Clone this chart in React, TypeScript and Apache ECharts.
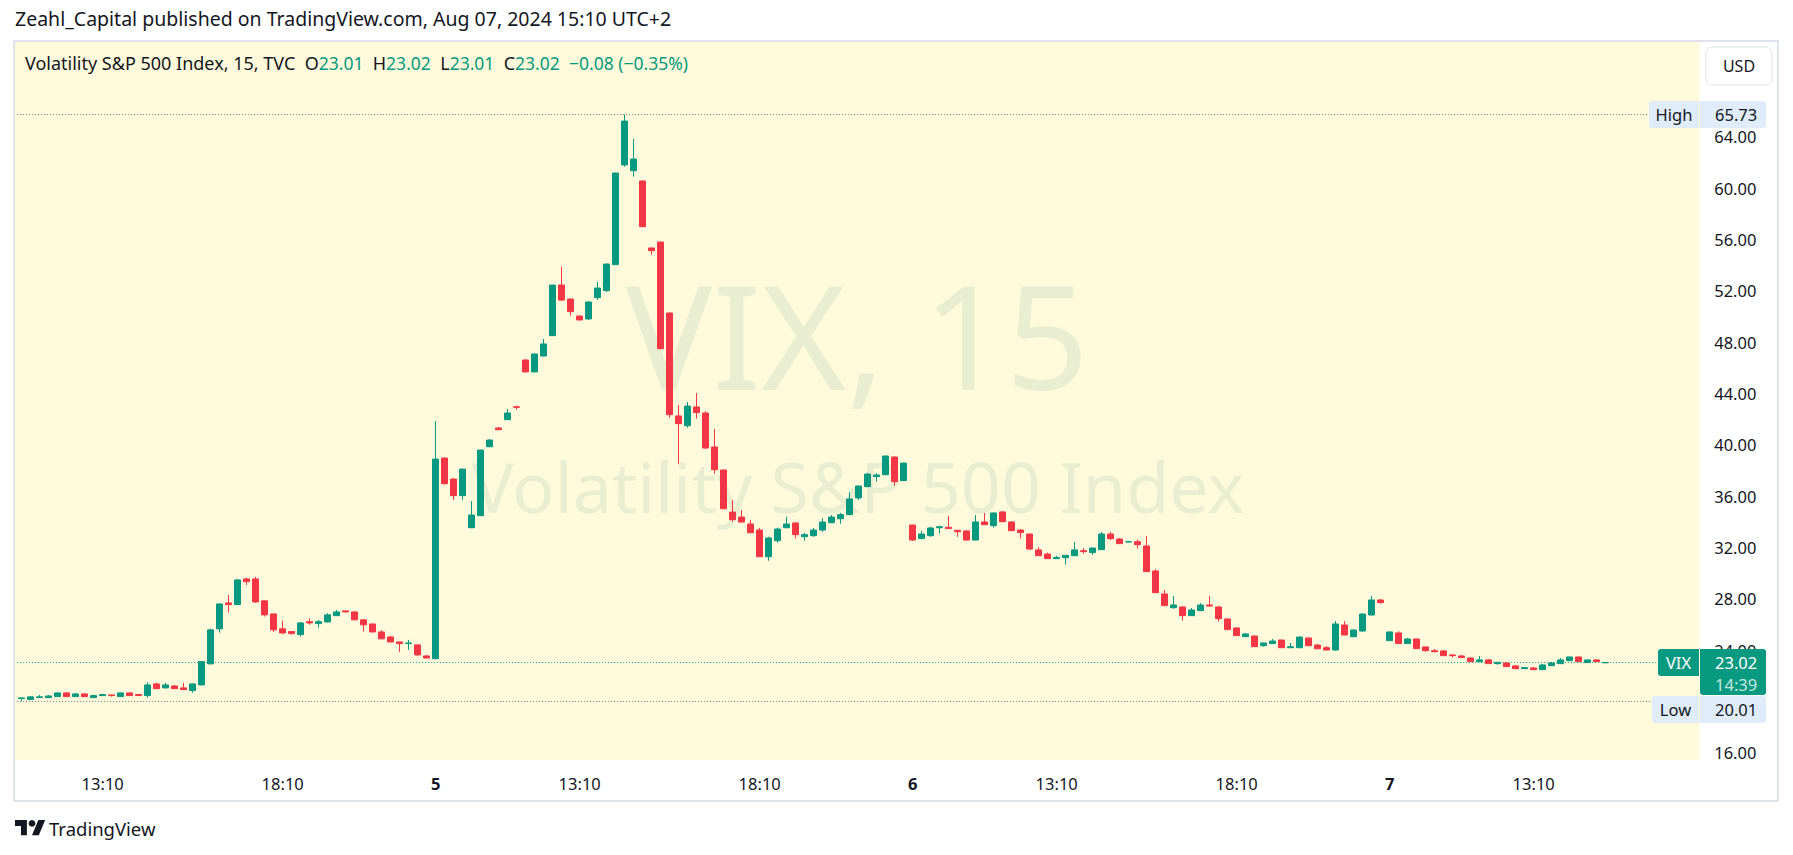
import React, { useEffect, useRef } from 'react';
import * as echarts from 'echarts';

// ---- data (15-minute candles, VIX, Aug 2 - Aug 7, 2024, UTC+2) ----
const opens = [
  20.22, 20.14, 20.30, 20.29, 20.37, 20.66, 20.37, 20.58, 20.29, 20.45,
  20.50, 20.37, 20.66, 20.53, 20.45, 21.36, 21.05, 21.20, 21.05, 20.84,
  21.28, 22.92, 25.65, 27.67, 27.54, 29.54, 29.54, 27.83, 26.81, 25.65,
  25.44, 25.20, 26.21, 26.06, 26.19, 26.68, 27.05, 26.97, 26.35, 26.03,
  25.41, 25.02, 24.63, 24.50, 24.40, 23.54,
  23.32, 38.96, 37.32, 36.03, 33.53, 34.47, 39.84, 41.30, 41.95, 42.96,
  46.60, 45.67, 46.91, 48.50, 52.44, 51.35, 50.03, 49.80, 51.46, 52.00,
  54.03, 61.80, 61.35, 60.55, 55.33, 55.79, 50.26, 42.24, 41.48, 42.94,
  42.47, 39.82, 38.03, 34.75, 34.36, 33.82, 33.35, 31.27, 32.52, 33.53,
  33.90, 32.83, 32.91, 33.35, 33.92, 34.23, 34.55, 35.85, 36.73, 37.51,
  37.66, 39.04, 37.20,
  33.74, 32.68, 32.91, 33.53, 33.56, 33.33, 33.28, 32.57, 33.98, 33.69,
  34.76, 33.98, 33.35, 33.04, 31.80, 31.48, 31.12, 31.20, 31.35, 31.74,
  31.59, 31.82, 33.04, 32.65, 32.42, 32.44, 32.11, 30.16, 28.37, 27.30,
  27.35, 26.68, 27.07, 27.51, 27.35, 26.42, 25.72, 25.04, 25.09, 24.34,
  24.50, 24.78, 24.18, 24.18, 24.94, 24.39, 24.18, 24.00, 25.95, 25.04,
  25.48, 26.73, 27.90,
  24.73, 25.33, 24.50, 24.86, 24.24, 23.95, 23.93, 23.62, 23.54, 23.38,
  23.10, 23.23, 22.94, 22.99, 22.76, 22.55, 22.60, 22.47, 22.78, 22.94,
  23.17, 23.46, 23.02, 23.23, 23.01,
];
const closes = [
  20.27, 20.35, 20.35, 20.42, 20.66, 20.37, 20.58, 20.37, 20.45, 20.53,
  20.45, 20.66, 20.45, 20.45, 21.28, 20.99, 21.28, 20.99, 20.92, 21.36,
  23.10, 25.57, 27.59, 27.54, 29.46, 29.33, 27.75, 26.74, 25.57, 25.33,
  25.28, 26.11, 26.11, 26.21, 26.74, 26.97, 26.97, 26.35, 25.96, 25.41,
  24.87, 24.63, 24.50, 24.55, 23.62, 23.38,
  38.88, 36.96, 36.03, 38.10, 34.52, 39.58, 40.36, 41.17, 42.47, 42.91,
  45.67, 47.07, 47.85, 52.44, 51.27, 50.37, 49.72, 51.12, 52.21, 54.08,
  61.17, 65.22, 62.26, 56.99, 55.12, 47.48, 42.34, 41.64, 43.01, 42.50,
  39.74, 38.05, 35.01, 34.16, 33.97, 33.14, 31.27, 32.73, 33.43, 33.82,
  32.99, 32.99, 33.35, 33.97, 34.36, 34.55, 35.77, 36.78, 37.71, 37.64,
  39.12, 37.12, 38.57,
  32.57, 33.04, 33.51, 33.61, 33.46, 33.22, 32.57, 33.98, 33.77, 34.68,
  34.00, 33.30, 33.15, 31.87, 31.35, 31.12, 31.22, 31.38, 31.80, 31.67,
  31.95, 33.04, 32.68, 32.29, 32.44, 32.21, 30.11, 28.47, 27.46, 27.51,
  26.68, 27.12, 27.51, 27.43, 26.44, 25.59, 25.12, 25.25, 24.26, 24.55,
  24.70, 24.18, 24.26, 25.01, 24.34, 24.10, 24.00, 26.03, 25.17, 25.56,
  26.81, 27.90, 27.69,
  25.41, 24.50, 24.86, 24.11, 23.95, 23.87, 23.56, 23.56, 23.41, 23.10,
  23.23, 22.94, 23.04, 22.71, 22.55, 22.63, 22.47, 22.84, 22.99, 23.23,
  23.46, 23.10, 23.23, 23.10, 23.02,
];
const lows = [
  20.01, 20.12, 20.28, 20.27, 20.35, 20.35, 20.35, 20.35, 20.27, 20.43,
  20.37, 20.35, 20.43, 20.43, 20.29, 20.97, 21.00, 20.97, 20.90, 20.68,
  21.26, 22.90, 25.36, 26.92, 27.50, 29.07, 27.67, 26.61, 25.41, 25.25,
  25.20, 25.05, 25.98, 25.75, 26.14, 26.66, 26.92, 26.33, 25.44, 25.39,
  24.85, 24.60, 23.85, 24.01, 23.54, 23.35,
  23.30, 36.90, 35.69, 35.69, 33.50, 34.45, 39.82, 41.15, 41.93, 42.73,
  45.65, 45.65, 46.89, 48.48, 51.20, 50.05, 49.70, 49.72, 51.27, 51.90,
  54.00, 61.67, 60.89, 56.95, 54.81, 47.45, 42.11, 38.50, 41.33, 42.03,
  39.69, 37.74, 35.00, 34.00, 33.95, 33.10, 31.25, 30.96, 32.36, 33.50,
  32.68, 32.52, 32.83, 33.22, 33.90, 33.84, 34.53, 35.69, 36.70, 37.12,
  37.64, 36.81, 37.18,
  32.50, 32.66, 32.83, 33.07, 33.45, 32.83, 32.55, 32.55, 33.75, 33.54,
  33.98, 33.28, 32.68, 31.80, 31.33, 31.10, 31.10, 30.65, 31.33, 31.51,
  31.43, 31.80, 32.57, 32.27, 32.40, 31.90, 30.09, 28.45, 27.44, 27.22,
  26.29, 26.66, 27.05, 27.38, 26.21, 25.57, 25.10, 25.02, 24.24, 24.26,
  24.48, 24.16, 24.16, 24.16, 24.32, 24.08, 23.98, 23.95, 25.15, 25.00,
  25.43, 26.70, 27.61,
  24.70, 24.46, 24.48, 24.09, 23.87, 23.85, 23.54, 23.43, 23.39, 23.08,
  23.08, 22.92, 22.86, 22.69, 22.53, 22.53, 22.45, 22.45, 22.76, 22.92,
  23.15, 23.08, 23.00, 23.07, 23.01,
];
const highs = [
  20.30, 20.37, 20.50, 20.50, 20.68, 20.68, 20.66, 20.60, 20.50, 20.58,
  20.52, 20.68, 20.68, 20.58, 21.49, 21.44, 21.44, 21.28, 21.44, 21.40,
  23.12, 25.65, 27.62, 28.29, 29.54, 29.64, 29.70, 27.85, 26.83, 26.29,
  25.46, 26.19, 26.47, 26.34, 26.87, 27.12, 27.07, 26.99, 26.37, 26.06,
  25.54, 25.10, 24.65, 24.79, 24.42, 23.62,
  41.84, 39.00, 37.40, 38.12, 35.61, 39.60, 40.44, 41.38, 42.78, 43.04,
  46.68, 47.10, 48.24, 52.46, 53.87, 51.40, 50.05, 51.15, 52.68, 54.10,
  61.20, 65.73, 63.82, 60.60, 55.35, 55.82, 50.30, 43.09, 43.33, 44.03,
  42.60, 41.22, 38.05, 35.69, 34.91, 34.13, 33.51, 32.83, 33.53, 34.39,
  33.95, 33.12, 33.51, 34.29, 34.52, 34.68, 36.31, 36.80, 37.79, 37.79,
  39.14, 39.10, 38.60,
  33.76, 33.28, 33.61, 33.69, 34.44, 33.35, 33.30, 34.52, 34.68, 34.70,
  34.83, 34.00, 33.43, 33.06, 32.03, 31.59, 31.33, 31.40, 32.42, 31.93,
  31.97, 33.20, 33.20, 32.73, 32.50, 32.60, 32.88, 30.29, 28.68, 28.21,
  27.43, 27.27, 27.66, 28.21, 27.43, 26.44, 25.74, 25.33, 25.11, 24.57,
  24.86, 24.80, 24.55, 25.04, 24.96, 24.47, 24.31, 26.26, 26.26, 25.61,
  26.83, 28.21, 27.98,
  25.43, 25.46, 24.94, 24.88, 24.26, 24.08, 24.00, 23.64, 23.62, 23.40,
  23.54, 23.30, 23.06, 23.01, 22.84, 22.68, 22.68, 22.92, 23.07, 23.38,
  23.48, 23.48, 23.25, 23.25, 23.02,
];

// trading sessions: day label, first candle time, number of 15-min candles
const sessions = [
  { day: '2', start: '10:55', count: 46 },
  { day: '5', start: '09:10', count: 53 },
  { day: '6', start: '09:10', count: 53 },
  { day: '7', start: '09:10', count: 25 },
];
const emptySlots = 10;
const sessionOpen = '09:10';
const timeTicks = ['13:10', '18:10'];
// 20.00 is hidden behind the "Low" label in the reference, so it is not drawn
const priceTicks = [16, 24, 28, 32, 36, 40, 44, 48, 52, 56, 60, 64];
const priceMin = 15.43;
const priceMax = 71.38;
const highValue = 65.73;
const lowValue = 20.01;
const countdown = '14:39';

const GREEN = '#089981';
const RED = '#f23645';
const TEXT = '#131722';
const FONT = '"Noto Sans", Roboto, sans-serif';

function buildCategories(): string[] {
  const out: string[] = [];
  sessions.forEach((s) => {
    const [h, m] = s.start.split(':').map(Number);
    let t = h * 60 + m;
    for (let k = 0; k < s.count; k++) {
      const hh = String(Math.floor(t / 60)).padStart(2, '0');
      const mm = String(t % 60).padStart(2, '0');
      out.push(`${s.day} ${hh}:${mm}`);
      t += 15;
    }
  });
  for (let k = 0; k < emptySlots; k++) out.push(`pad${k}`);
  return out;
}

let shapeRegistered = false;
function registerLogo() {
  if (shapeRegistered) return;
  echarts.graphic.registerShape(
    'tvlogo',
    echarts.graphic.extendPath('M14 22H7V11H0V4h14v18z M28 22h-8l7.5-18h8z', {})
  );
  shapeRegistered = true;
}

export default function App() {
  const ref = useRef<HTMLDivElement>(null);

  useEffect(() => {
    if (!ref.current) return;
    registerLogo();
    const chart = echarts.init(ref.current, undefined, { renderer: 'svg' });
    const categories = buildCategories();
    const data = opens.map((o, i) => [o, closes[i], lows[i], highs[i]]);
    const last = opens.length - 1;
    const lastClose = closes[last];
    const change = closes[last] - closes[last - 1];
    const pct = (change / closes[last - 1]) * 100;
    const fmtSigned = (v: number) => (v < 0 ? '\u2212' : '+') + Math.abs(v).toFixed(2);

    const isLabel = (v: string) => {
      const t = v.split(' ')[1];
      return t === sessionOpen || timeTicks.includes(t);
    };

    chart.setOption({
      animation: false,
      backgroundColor: '#ffffff',
      grid: { left: 17.2, top: 42, width: 1683, height: 718, containLabel: false },
      xAxis: {
        type: 'category',
        data: categories,
        boundaryGap: true,
        axisLine: { show: false },
        axisTick: { show: false },
        splitLine: { show: false },
        axisLabel: {
          interval: (_i: number, v: string) => isLabel(v),
          formatter: (v: string) => {
            const [d, t] = v.split(' ');
            if (t === sessionOpen) return `{d|${d}}`;
            return t || '';
          },
          color: TEXT,
          fontSize: 16.5,
          fontFamily: FONT,
          margin: 15,
          rich: { d: { fontWeight: 'bold', fontSize: 16.5, fontFamily: FONT, color: TEXT } },
        },
      },
      yAxis: {
        type: 'value',
        position: 'right',
        min: priceMin,
        max: priceMax,
        axisLine: { show: false },
        axisTick: { show: false },
        splitLine: { show: false },
        axisLabel: {
          customValues: priceTicks,
          formatter: (v: number) => v.toFixed(2),
          color: TEXT,
          fontSize: 16.5,
          fontFamily: FONT,
          margin: 14,
        },
      },
      series: [
        {
          type: 'candlestick',
          data,
          barWidth: 7,
          z: 5,
          itemStyle: {
            color: GREEN,
            color0: RED,
            borderColor: GREEN,
            borderColor0: RED,
            borderWidth: 1,
          },
          markLine: {
            silent: true,
            symbol: ['none', 'none'],
            label: { show: false },
            lineStyle: { type: [1, 2], width: 1 },
            data: [
              { yAxis: highValue, lineStyle: { color: '#787b86', type: [1, 2], width: 1 } },
              { yAxis: lowValue, lineStyle: { color: '#787b86', type: [1, 2], width: 1 } },
              { yAxis: lastClose, lineStyle: { color: GREEN, type: [1, 2], width: 1 } },
            ],
          },
        },
      ],
    });

    const yH = chart.convertToPixel({ yAxisIndex: 0 }, highValue) as number;
    const yC = chart.convertToPixel({ yAxisIndex: 0 }, lastClose) as number;
    const vixTop = yC - 13.5;
    const lowTop = vixTop + 47;

    chart.setOption({
      graphic: [
        { type: 'rect', z: -30, shape: { x: 14, y: 41, width: 1764, height: 760 }, style: { fill: '#ffffff', stroke: '#e0e3eb', lineWidth: 2 } },
        { type: 'rect', z: -20, shape: { x: 15, y: 42, width: 1685, height: 718 }, style: { fill: '#fffadb' } },
        { type: 'text', z: -10, x: 857, y: 333, style: { text: 'VIX, 15', fontSize: 145, fontFamily: FONT, fill: '#e8eecf', textAlign: 'center', textVerticalAlign: 'middle' } },
        { type: 'text', z: -10, x: 858, y: 486, style: { text: 'Volatility S&P 500 Index', fontSize: 70, fontFamily: FONT, fill: '#e8eecf', textAlign: 'center', textVerticalAlign: 'middle' } },
        { type: 'text', z: 10, x: 15, y: 18, style: { text: 'Zeahl_Capital published on TradingView.com, Aug 07, 2024 15:10 UTC+2', fontSize: 19.5, fontFamily: FONT, fill: TEXT, textVerticalAlign: 'middle' } },
        {
          type: 'text', z: 10, x: 25, y: 63,
          style: {
            text: `{t|Volatility S&P 500 Index, 15, TVC  O}{g|${opens[last].toFixed(2)}}{t|  H}{g|${highs[last].toFixed(2)}}{t|  L}{g|${lows[last].toFixed(2)}}{t|  C}{g|${closes[last].toFixed(2)}}{g|  ${fmtSigned(change)} (${fmtSigned(pct)}%)}`,
            textVerticalAlign: 'middle',
            rich: {
              t: { fontSize: 18, fontFamily: FONT, fill: TEXT },
              g: { fontSize: 17.5, fontFamily: FONT, fill: GREEN },
            },
          },
        },
        { type: 'rect', z: 10, shape: { x: 1706, y: 47, width: 66, height: 38, r: 6 }, style: { fill: '#ffffff', stroke: '#e0e3eb', lineWidth: 1 } },
        { type: 'text', z: 11, x: 1739, y: 66, style: { text: 'USD', fontSize: 16, fontFamily: FONT, fill: TEXT, textAlign: 'center', textVerticalAlign: 'middle' } },
        // High label
        { type: 'rect', z: 10, shape: { x: 1649, y: yH - 13.5, width: 50, height: 27, r: [3, 0, 0, 3] }, style: { fill: '#e1ecfb' } },
        { type: 'rect', z: 10, shape: { x: 1700, y: yH - 13.5, width: 66, height: 27, r: [0, 3, 3, 0] }, style: { fill: '#e1ecfb' } },
        { type: 'text', z: 11, x: 1674, y: yH, style: { text: 'High', fontSize: 16.5, fontFamily: FONT, fill: TEXT, textAlign: 'center', textVerticalAlign: 'middle' } },
        { type: 'text', z: 11, x: 1715, y: yH, style: { text: highValue.toFixed(2), fontSize: 16.5, fontFamily: FONT, fill: TEXT, textVerticalAlign: 'middle' } },
        // Last price label
        { type: 'rect', z: 10, shape: { x: 1658, y: vixTop, width: 41, height: 27, r: [3, 0, 0, 3] }, style: { fill: GREEN } },
        { type: 'rect', z: 10, shape: { x: 1700, y: vixTop, width: 66, height: 46, r: [0, 3, 3, 3] }, style: { fill: GREEN } },
        { type: 'text', z: 11, x: 1678.5, y: yC, style: { text: 'VIX', fontSize: 16.5, fontFamily: FONT, fill: '#ffffff', textAlign: 'center', textVerticalAlign: 'middle' } },
        { type: 'text', z: 11, x: 1715, y: yC, style: { text: lastClose.toFixed(2), fontSize: 16.5, fontFamily: FONT, fill: '#ffffff', textVerticalAlign: 'middle' } },
        { type: 'text', z: 11, x: 1715, y: yC + 21.5, style: { text: countdown, fontSize: 16.5, fontFamily: FONT, fill: '#c4e8df', textVerticalAlign: 'middle' } },
        // Low label
        { type: 'rect', z: 10, shape: { x: 1652, y: lowTop, width: 47, height: 27, r: [3, 0, 0, 3] }, style: { fill: '#e1ecfb' } },
        { type: 'rect', z: 10, shape: { x: 1700, y: lowTop, width: 66, height: 27, r: [0, 3, 3, 0] }, style: { fill: '#e1ecfb' } },
        { type: 'text', z: 11, x: 1675.5, y: lowTop + 13.5, style: { text: 'Low', fontSize: 16.5, fontFamily: FONT, fill: TEXT, textAlign: 'center', textVerticalAlign: 'middle' } },
        { type: 'text', z: 11, x: 1715, y: lowTop + 13.5, style: { text: lowValue.toFixed(2), fontSize: 16.5, fontFamily: FONT, fill: TEXT, textVerticalAlign: 'middle' } },
        // TradingView logo
        {
          type: 'group', x: 15, y: 816.6, scaleX: 0.85, scaleY: 0.85, z: 10,
          children: [
            { type: 'tvlogo', style: { fill: TEXT } },
            { type: 'circle', shape: { cx: 20, cy: 8, r: 4 }, style: { fill: TEXT } },
          ],
        },
        { type: 'text', z: 10, x: 49, y: 828, style: { text: 'TradingView', fontSize: 18.5, fontFamily: FONT, fill: TEXT, textVerticalAlign: 'middle' } },
      ],
    });

    return () => chart.dispose();
  }, []);

  return (
    <div
      ref={ref}
      style={{ position: 'fixed', left: 0, top: 0, width: 1793, height: 855, background: '#ffffff' }}
    />
  );
}
